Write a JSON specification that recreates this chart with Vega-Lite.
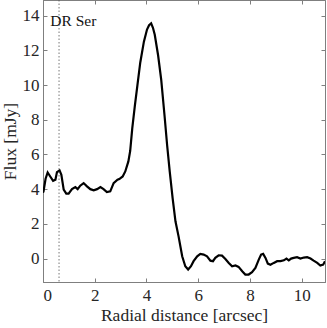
{
  "$schema": "https://vega.github.io/schema/vega-lite/v6.json",
  "width": 282,
  "height": 282,
  "autosize": {"type": "none"},
  "padding": {"left": 43, "top": 0, "right": 2, "bottom": 46},
  "background": "white",
  "config": {
    "view": {"stroke": "#7f7f7f", "strokeWidth": 1},
    "font": "Liberation Serif",
    "axis": {
      "labelFont": "Liberation Serif",
      "titleFont": "Liberation Serif",
      "labelFontSize": 17,
      "titleFontSize": 17.5,
      "labelColor": "#262626",
      "titleColor": "#262626",
      "titleFontWeight": "normal",
      "domainColor": "#7f7f7f",
      "tickColor": "#7f7f7f",
      "grid": false,
      "tickSize": -4
    }
  },
  "datasets": {
    "profile": [
      {"r": 0.0, "flux": 3.8},
      {"r": 0.02, "flux": 3.87},
      {"r": 0.1, "flux": 4.6},
      {"r": 0.18, "flux": 4.96},
      {"r": 0.28, "flux": 4.73},
      {"r": 0.39, "flux": 4.48},
      {"r": 0.48, "flux": 4.54},
      {"r": 0.54, "flux": 4.98},
      {"r": 0.64, "flux": 5.08},
      {"r": 0.71, "flux": 4.83},
      {"r": 0.8, "flux": 3.97},
      {"r": 0.9, "flux": 3.74},
      {"r": 0.99, "flux": 3.74},
      {"r": 1.12, "flux": 4.0},
      {"r": 1.25, "flux": 4.12},
      {"r": 1.34, "flux": 4.0},
      {"r": 1.44, "flux": 4.2},
      {"r": 1.57, "flux": 4.35},
      {"r": 1.7, "flux": 4.16},
      {"r": 1.83, "flux": 4.0},
      {"r": 1.96, "flux": 3.93},
      {"r": 2.09, "flux": 4.0},
      {"r": 2.22, "flux": 4.12},
      {"r": 2.34, "flux": 4.0},
      {"r": 2.47, "flux": 3.83},
      {"r": 2.6, "flux": 3.87},
      {"r": 2.73, "flux": 4.35},
      {"r": 2.88, "flux": 4.54},
      {"r": 2.95, "flux": 4.58},
      {"r": 3.08, "flux": 4.73},
      {"r": 3.18, "flux": 5.02},
      {"r": 3.3, "flux": 5.6},
      {"r": 3.37, "flux": 6.2},
      {"r": 3.45, "flux": 7.5},
      {"r": 3.55, "flux": 8.8},
      {"r": 3.65, "flux": 10.0},
      {"r": 3.76, "flux": 11.3},
      {"r": 3.9, "flux": 12.5},
      {"r": 4.02, "flux": 13.2},
      {"r": 4.1, "flux": 13.45},
      {"r": 4.18, "flux": 13.55},
      {"r": 4.25, "flux": 13.3},
      {"r": 4.32, "flux": 12.9},
      {"r": 4.45, "flux": 11.7},
      {"r": 4.57, "flux": 10.3},
      {"r": 4.7, "flux": 8.2},
      {"r": 4.8, "flux": 6.5},
      {"r": 4.9, "flux": 5.0},
      {"r": 5.01, "flux": 3.49},
      {"r": 5.12, "flux": 2.15},
      {"r": 5.24, "flux": 1.28},
      {"r": 5.38, "flux": 0.13},
      {"r": 5.5, "flux": -0.44},
      {"r": 5.61, "flux": -0.63},
      {"r": 5.72, "flux": -0.44},
      {"r": 5.82, "flux": -0.15},
      {"r": 5.96, "flux": 0.13},
      {"r": 6.08, "flux": 0.27},
      {"r": 6.21, "flux": 0.23},
      {"r": 6.34, "flux": 0.13},
      {"r": 6.47, "flux": -0.12},
      {"r": 6.57, "flux": -0.15},
      {"r": 6.66, "flux": 0.04},
      {"r": 6.79, "flux": 0.19},
      {"r": 6.92, "flux": 0.17},
      {"r": 7.05, "flux": -0.02},
      {"r": 7.18, "flux": -0.25},
      {"r": 7.31, "flux": -0.44},
      {"r": 7.44, "flux": -0.4},
      {"r": 7.56, "flux": -0.48},
      {"r": 7.7, "flux": -0.73},
      {"r": 7.82, "flux": -0.92},
      {"r": 7.95, "flux": -0.92},
      {"r": 8.08, "flux": -0.79},
      {"r": 8.21, "flux": -0.54},
      {"r": 8.34, "flux": -0.06},
      {"r": 8.43, "flux": 0.23},
      {"r": 8.51, "flux": 0.27},
      {"r": 8.6, "flux": 0.04},
      {"r": 8.69, "flux": -0.29},
      {"r": 8.79, "flux": -0.36},
      {"r": 8.92, "flux": -0.25},
      {"r": 9.05, "flux": -0.15},
      {"r": 9.18, "flux": -0.15},
      {"r": 9.31, "flux": -0.1},
      {"r": 9.41, "flux": 0.0},
      {"r": 9.5, "flux": -0.1},
      {"r": 9.59, "flux": 0.0},
      {"r": 9.69, "flux": 0.04},
      {"r": 9.82, "flux": 0.08},
      {"r": 9.95, "flux": 0.0},
      {"r": 10.08, "flux": 0.06},
      {"r": 10.21, "flux": 0.08},
      {"r": 10.34, "flux": 0.0},
      {"r": 10.46, "flux": -0.12},
      {"r": 10.6, "flux": -0.25},
      {"r": 10.72, "flux": -0.4},
      {"r": 10.83, "flux": -0.35},
      {"r": 10.9, "flux": -0.15}
    ],
    "marker": [{"r": 0.62}],
    "label": [{"r": 0.28, "flux": 13.4, "text": "DR Ser"}]
  },
  "resolve": {"axis": {"x": "independent", "y": "independent"}},
  "layer": [
    {
      "data": {"name": "profile"},
      "mark": {"type": "line", "color": "black", "strokeWidth": 2.2, "clip": true},
      "encoding": {
        "x": {
          "field": "r", "type": "quantitative",
          "scale": {"domain": [0, 10.9], "nice": false, "zero": false},
          "axis": {"title": "Radial distance [arcsec]", "values": [0, 2, 4, 6, 8, 10], "labelFont": "Liberation Serif", "labelFontSize": 17, "labelPadding": 9, "titlePadding": 3}
        },
        "y": {
          "field": "flux", "type": "quantitative",
          "scale": {"domain": [-1.35, 14.9], "nice": false, "zero": false},
          "axis": {"title": "Flux [mJy]", "values": [0, 2, 4, 6, 8, 10, 12, 14], "labelFont": "Liberation Serif", "labelFontSize": 17, "labelPadding": 8, "titlePadding": 3}
        }
      }
    },
    {
      "data": {"name": "marker"},
      "mark": {"type": "rule", "color": "#555555", "strokeWidth": 0.8, "strokeDash": [1.5, 2]},
      "encoding": {
        "x": {
          "field": "r", "type": "quantitative",
          "axis": {"orient": "top", "labels": false, "title": null, "values": [0, 2, 4, 6, 8, 10]}
        }
      }
    },
    {
      "data": {"name": "label"},
      "mark": {"type": "text", "align": "left", "baseline": "alphabetic", "font": "Liberation Serif", "fontSize": 15.5, "color": "#111111"},
      "encoding": {
        "x": {"field": "r", "type": "quantitative", "axis": null},
        "y": {
          "field": "flux", "type": "quantitative",
          "axis": {"orient": "right", "labels": false, "title": null, "values": [0, 2, 4, 6, 8, 10, 12, 14]}
        },
        "text": {"field": "text"}
      }
    }
  ]
}
